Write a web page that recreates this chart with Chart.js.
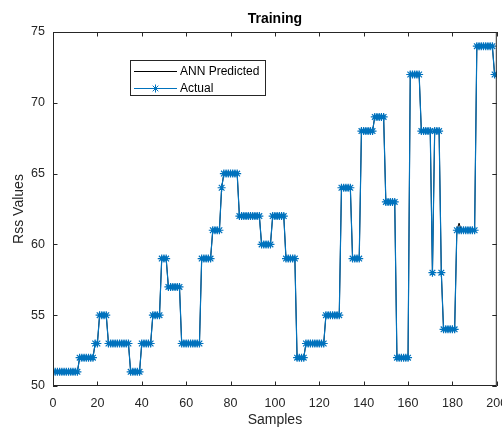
<!DOCTYPE html>
<html>
<head>
<meta charset="utf-8">
<script src="https://cdn.jsdelivr.net/npm/chart.js@4"></script>
<style>
  html, body { margin: 0; padding: 0; background: #fff; overflow: hidden; }
</style>
</head>
<body>
<canvas id="chart" width="502" height="427"></canvas>
<script>
// values, one per sample (1..200)
const actual = [
  51, 51, 51, 51, 51, 51, 51, 51, 51, 51,
  51, 52, 52, 52, 52, 52, 52, 52, 53, 53,
  55, 55, 55, 55, 53, 53, 53, 53, 53, 53,
  53, 53, 53, 53, 51, 51, 51, 51, 51, 53,
  53, 53, 53, 53, 55, 55, 55, 55, 59, 59,
  59, 57, 57, 57, 57, 57, 57, 53, 53, 53,
  53, 53, 53, 53, 53, 53, 59, 59, 59, 59,
  59, 61, 61, 61, 61, 64, 65, 65, 65, 65,
  65, 65, 65, 62, 62, 62, 62, 62, 62, 62,
  62, 62, 62, 60, 60, 60, 60, 60, 62, 62,
  62, 62, 62, 62, 59, 59, 59, 59, 59, 52,
  52, 52, 52, 53, 53, 53, 53, 53, 53, 53,
  53, 53, 55, 55, 55, 55, 55, 55, 55, 64,
  64, 64, 64, 64, 59, 59, 59, 59, 68, 68,
  68, 68, 68, 68, 69, 69, 69, 69, 69, 63,
  63, 63, 63, 63, 52, 52, 52, 52, 52, 52,
  72, 72, 72, 72, 72, 68, 68, 68, 68, 68,
  58, 68, 68, 68, 58, 54, 54, 54, 54, 54,
  54, 61, 61, 61, 61, 61, 61, 61, 61, 61,
  74, 74, 74, 74, 74, 74, 74, 74, 72, 72
];

// network output: follows the target except a small overshoot near sample 183
const predicted = [
  51, 51, 51, 51, 51, 51, 51, 51, 51, 51,
  51, 52, 52, 52, 52, 52, 52, 52, 53, 53,
  55, 55, 55, 55, 53, 53, 53, 53, 53, 53,
  53, 53, 53, 53, 51, 51, 51, 51, 51, 53,
  53, 53, 53, 53, 55, 55, 55, 55, 59, 59,
  59, 57, 57, 57, 57, 57, 57, 53, 53, 53,
  53, 53, 53, 53, 53, 53, 59, 59, 59, 59,
  59, 61, 61, 61, 61, 64, 65, 65, 65, 65,
  65, 65, 65, 62, 62, 62, 62, 62, 62, 62,
  62, 62, 62, 60, 60, 60, 60, 60, 62, 62,
  62, 62, 62, 62, 59, 59, 59, 59, 59, 52,
  52, 52, 52, 53, 53, 53, 53, 53, 53, 53,
  53, 53, 55, 55, 55, 55, 55, 55, 55, 64,
  64, 64, 64, 64, 59, 59, 59, 59, 68, 68,
  68, 68, 68, 68, 69, 69, 69, 69, 69, 63,
  63, 63, 63, 63, 52, 52, 52, 52, 52, 52,
  72, 72, 72, 72, 72, 68, 68, 68, 68, 68,
  58, 68, 68, 68, 58, 54, 54, 54, 54, 54,
  54, 61, 61.5, 61, 61, 61, 61, 61, 61, 61,
  74, 74, 74, 74, 74, 74, 74, 74, 72, 72
];

const seriesNames = ["ANN Predicted", "Actual"];
const xTicks = [0, 20, 40, 60, 80, 100, 120, 140, 160, 180, 200];
const yTicks = [50, 55, 60, 65, 70, 75];

const FONT = "'Liberation Sans', Arial, Helvetica, sans-serif";
const AXIS = "#262626";
const BLUE = "#0072BD";

const toPoints = (vals) => vals.map((v, i) => ({ x: i + 1, y: v }));

// matlab style box with inward ticks on all four sides
const boxPlugin = {
  id: "box",
  afterDraw(chart) {
    const { ctx, chartArea: a, scales } = chart;
    const tl = 4.5;
    ctx.save();
    ctx.strokeStyle = AXIS;
    ctx.lineWidth = 1;
    ctx.beginPath();
    xTicks.forEach((t) => {
      const px = Math.round(scales.x.getPixelForValue(t)) + 0.5;
      ctx.moveTo(px, a.bottom);
      ctx.lineTo(px, a.bottom - tl);
      ctx.moveTo(px, a.top);
      ctx.lineTo(px, a.top + tl);
    });
    yTicks.forEach((t) => {
      const py = Math.round(scales.y.getPixelForValue(t)) + 0.5;
      ctx.moveTo(a.left, py);
      ctx.lineTo(a.left + tl, py);
      ctx.moveTo(a.right, py);
      ctx.lineTo(a.right - tl, py);
    });
    ctx.stroke();
    ctx.strokeRect(a.left + 0.5, a.top + 0.5, a.right - a.left - 1, a.bottom - a.top - 1);

    // legend box inside the axes
    const lx = 130.5, ly = 60.5, lw = 135, lh = 35;
    ctx.fillStyle = "#fff";
    ctx.fillRect(lx, ly, lw, lh);
    ctx.strokeRect(lx, ly, lw, lh);
    const rows = [
      { name: seriesNames[0], color: "#000", star: false, y: 71.5 },
      { name: seriesNames[1], color: BLUE, star: true, y: 88.5 },
    ];
    rows.forEach((r) => {
      ctx.strokeStyle = r.color;
      ctx.beginPath();
      ctx.moveTo(134, r.y);
      ctx.lineTo(177, r.y);
      ctx.stroke();
      if (r.star) {
        const cx = 155.5, s = 4, d = s * Math.SQRT1_2;
        ctx.beginPath();
        ctx.moveTo(cx - s, r.y); ctx.lineTo(cx + s, r.y);
        ctx.moveTo(cx, r.y - s); ctx.lineTo(cx, r.y + s);
        ctx.moveTo(cx - d, r.y - d); ctx.lineTo(cx + d, r.y + d);
        ctx.moveTo(cx - d, r.y + d); ctx.lineTo(cx + d, r.y - d);
        ctx.stroke();
      }
      ctx.fillStyle = "#000";
      ctx.font = "12px " + FONT;
      ctx.textBaseline = "middle";
      ctx.textAlign = "left";
      ctx.fillText(r.name, 180, r.y);
    });
    ctx.restore();
  },
};

new Chart(document.getElementById("chart"), {
  type: "line",
  data: {
    datasets: [
      {
        label: seriesNames[0],
        data: toPoints(predicted),
        borderColor: "#000",
        borderWidth: 1,
        pointRadius: 0,
        tension: 0,
        order: 1,
      },
      {
        label: seriesNames[1],
        data: toPoints(actual),
        borderColor: BLUE,
        backgroundColor: BLUE,
        borderWidth: 1.2,
        pointStyle: "star",
        pointRadius: 4,
        pointBorderColor: BLUE,
        pointBorderWidth: 1.2,
        tension: 0,
        order: 0,
      },
    ],
  },
  options: {
    responsive: false,
    animation: false,
    layout: { padding: { left: 0, right: 4, top: 0, bottom: 0 } },
    plugins: {
      legend: { display: false },
      tooltip: { enabled: false },
      title: {
        display: true,
        text: "Training",
        fullSize: false,
        color: "#000",
        font: { family: FONT, size: 14, weight: "bold" },
        padding: { top: 11, bottom: 4.2 },
      },
    },
    scales: {
      x: {
        type: "linear",
        min: 0,
        max: 200,
        afterBuildTicks: (s) => { s.ticks = xTicks.map((v) => ({ value: v })); },
        afterFit: (s) => { s.height = 41; s.paddingLeft = 0; s.paddingRight = 0; },
        grid: { display: false, drawTicks: false },
        border: { display: false },
        ticks: {
          autoSkip: false,
          maxRotation: 0,
          padding: 10,
          color: AXIS,
          font: { family: FONT, size: 12.5 },
        },
        title: {
          display: true,
          text: "Samples",
          color: AXIS,
          font: { family: FONT, size: 14, lineHeight: 1.0 },
          padding: { top: 0, bottom: 0 },
        },
      },
      y: {
        type: "linear",
        min: 50,
        max: 75,
        afterBuildTicks: (s) => { s.ticks = yTicks.map((v) => ({ value: v })); },
        afterFit: (s) => { s.width = 53; s.paddingTop = 0; s.paddingBottom = 0; },
        grid: { display: false, drawTicks: false },
        border: { display: false },
        ticks: {
          padding: 8,
          color: AXIS,
          font: { family: FONT, size: 12.5 },
        },
        title: {
          display: true,
          text: "Rss Values",
          color: AXIS,
          font: { family: FONT, size: 14 },
          padding: { top: 11, bottom: 0 },
        },
      },
    },
  },
  plugins: [boxPlugin],
});
</script>
</body>
</html>
